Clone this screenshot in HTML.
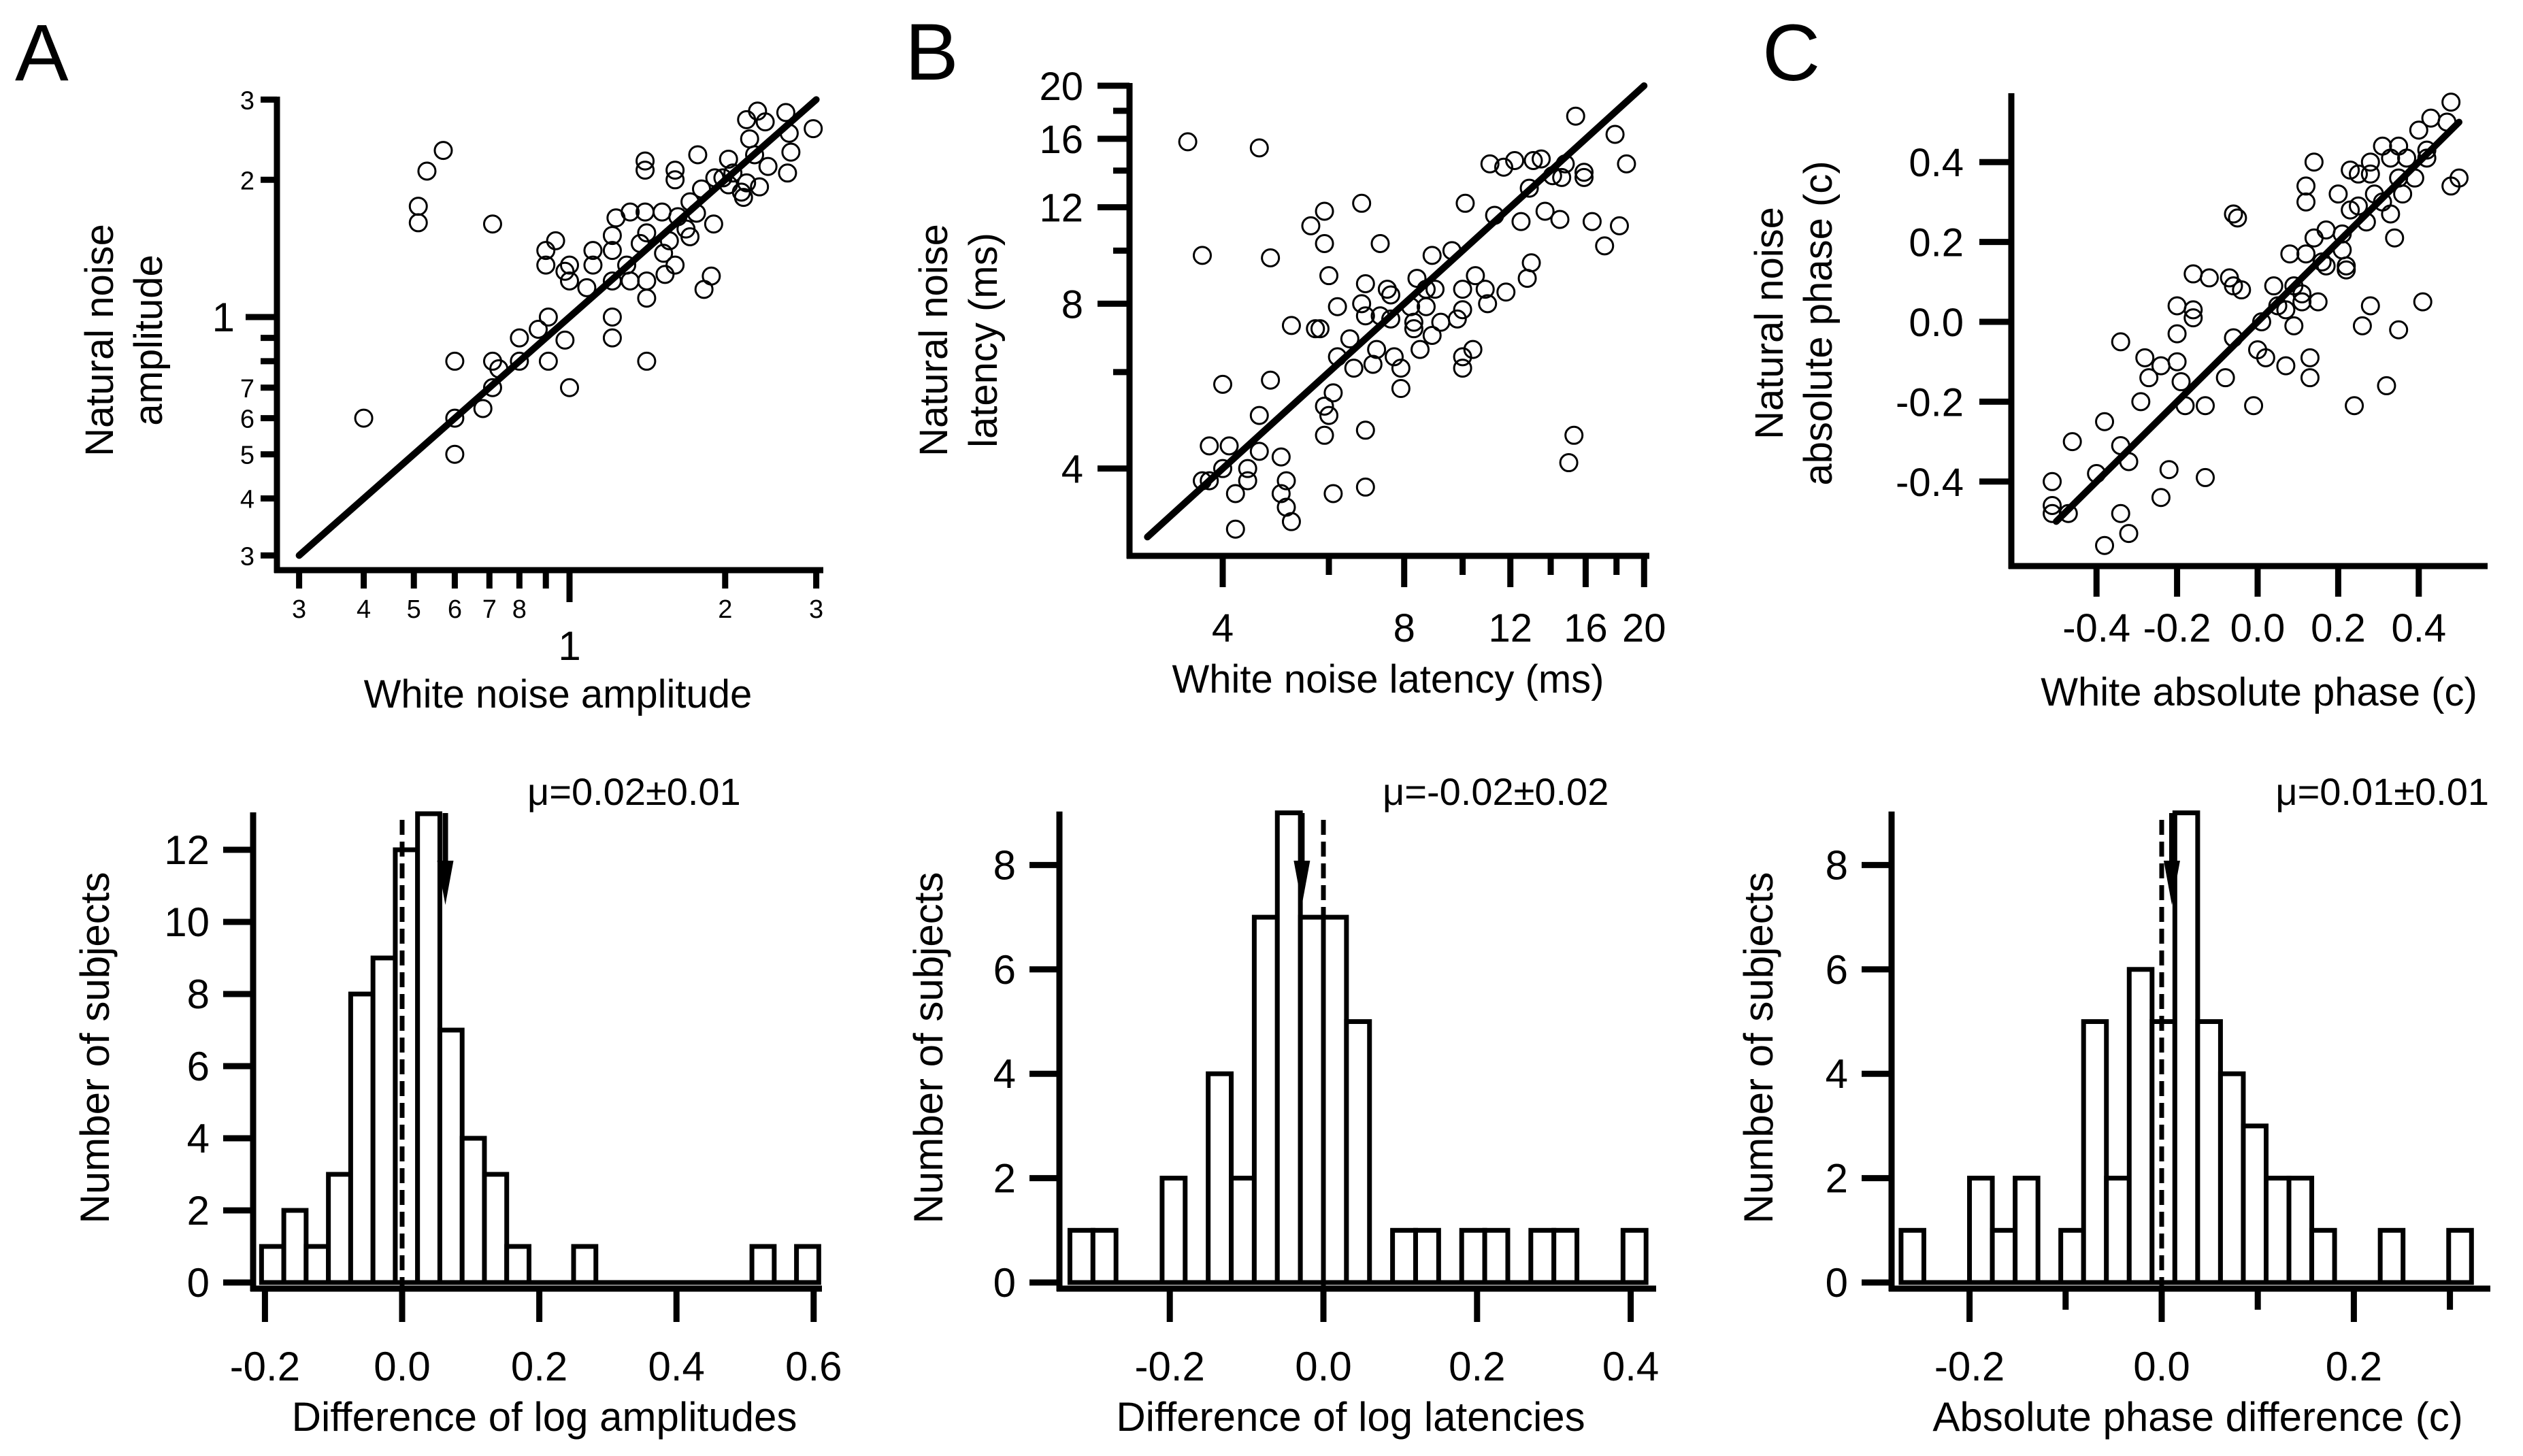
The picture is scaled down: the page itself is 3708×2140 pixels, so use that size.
<!DOCTYPE html>
<html><head><meta charset="utf-8"><title>Natural vs white noise comparison</title>
<style>
html,body{margin:0;padding:0;background:#fff;}
svg{display:block;font-family:"Liberation Sans",Arial,sans-serif;}
</style></head>
<body>
<svg id="fig" xmlns="http://www.w3.org/2000/svg" width="3708" height="2140" viewBox="0 0 3708 2140">
<rect x="0" y="0" width="3708" height="2140" fill="#fff"/>
</svg>
<script>
// ---------- Panel A scatter data (amplitudes) ----------
const ampWhite = [0.40,0.51,0.51,0.53,0.57,0.71,0.60,0.60,0.60,0.68,0.71,0.71,0.73,0.80,0.80,0.87,0.91,0.91,0.98,1.0,0.90,0.90,0.94,0.98,1.0,1.0,1.08,1.11,1.11,1.21,1.21,1.23,1.31,1.21,1.21,1.21,1.29,1.31,1.37,1.40,1.40,1.40,1.41,1.41,1.41,1.41,1.51,1.52,1.53,1.56,1.60,1.60,1.60,1.62,1.68,1.71,1.71,1.76,1.77,1.80,1.90,1.88,1.82,1.91,2.03,2.03,2.07,2.15,2.17,2.20,2.23,2.28,2.31,2.33,2.39,2.42,2.62,2.64,2.66,2.68,2.96,2.20,1.98];
const ampNatural = [0.60,1.61,1.75,2.09,2.32,1.60,0.80,0.60,0.50,0.63,0.80,0.70,0.77,0.80,0.90,0.94,1.0,0.80,0.89,0.70,1.30,1.40,1.47,1.26,1.30,1.20,1.16,1.40,1.30,1.51,1.40,1.65,1.70,1.20,1.0,0.90,1.30,1.20,1.45,1.70,2.20,2.10,1.53,1.20,1.10,0.80,1.70,1.38,1.24,1.47,2.10,2.00,1.30,1.66,1.56,1.79,1.50,1.69,2.27,1.91,1.60,1.23,1.15,2.02,2.22,1.95,2.07,1.88,1.83,2.71,2.46,2.27,2.83,1.93,2.68,2.14,2.81,2.07,2.53,2.30,2.59,1.97,2.02];
const ampTicks = [0.3,0.4,0.5,0.6,0.7,0.8,0.9,1,2,3];
const ampXLabels = ["3","4","5","6","7","8","","1","2","3"];
const ampYLabels = ["3","4","5","6","7","","","1","2","3"];
const ampFit = [0.3,3];

// ---------- Panel B scatter data (latencies, ms) ----------
const latWhite = [3.5,4.6,15.4,17.9,18.7,11.1,11.7,12.2,13.1,13.5,14.8,14.1,14.6,15.9,15.9,12.9,10.1,11.3,12.5,13.7,14.5,16.4,18.2,17.2,13.0,12.8,6.8,5.9,5.6,5.9,7.3,3.7,4.8,6.0,6.9,7.5,7.6,6.2,6.8,6.9,7.3,7.6,5.2,5.7,5.8,6.5,6.2,6.6,7.1,7.2,7.7,7.9,7.9,8.2,8.4,8.9,9.6,8.7,9.0,8.7,8.3,8.3,8.9,9.2,8.5,9.8,10.0,10.0,10.5,10.9,11.0,11.8,10.0,10.4,10.0,4.0,4.8,6.1,5.9,6.0,4.6,3.8,4.1,4.6,5.9,6.9,5.0,4.0,3.7,3.8,4.4,4.4,4.2,5.1,5.0,5.1,5.2,4.2,6.1,6.9,15.3,15.0];
const latNatural = [15.8,15.4,17.6,16.3,14.4,14.4,14.2,14.6,14.6,14.7,14.4,13.7,13.6,13.9,13.6,13.0,12.2,11.6,11.3,11.8,11.4,11.3,11.1,10.2,9.5,8.9,12.2,11.8,11.1,10.3,10.3,9.8,9.7,9.0,8.7,8.5,8.3,7.9,8.0,7.6,7.6,7.5,7.3,7.2,7.2,6.9,6.4,6.1,6.2,6.6,6.4,6.1,5.6,7.9,8.9,9.8,10.0,8.5,8.5,7.9,7.4,7.2,7.0,7.4,6.6,7.5,7.8,8.5,9.0,8.5,8.0,8.4,6.4,6.6,6.1,5.7,5.8,5.5,5.2,5.0,5.0,4.4,4.4,4.3,4.6,4.7,4.2,4.0,3.8,3.8,4.0,3.8,3.6,3.8,3.6,3.4,3.2,3.1,3.6,3.7,4.6,4.1];
const latYTicks = [4,6,8,10,12,14,16,18,20];
const latYLabels = ["4","","8","","12","","16","","20"];
const latFit = [3,20];

// ---------- Panel C scatter data (phase, cycles) ----------
const phWhite = [0.48,0.43,0.47,0.40,0.31,0.35,0.33,0.37,0.42,0.42,0.28,0.23,0.25,0.28,0.35,0.39,0.50,0.48,0.14,0.12,0.12,0.20,0.36,0.29,0.23,0.25,0.31,0.33,0.27,0.17,0.21,0.14,0.34,0.08,0.12,0.16,0.21,0.22,0.22,0.17,-0.06,-0.05,-0.16,-0.12,-0.07,-0.06,-0.04,0.04,0.09,0.11,0.15,0.11,0.05,0.07,0.09,0.01,-0.06,0.00,0.02,0.07,0.13,0.13,-0.20,-0.16,-0.16,-0.20,-0.34,-0.28,-0.24,-0.20,-0.27,-0.19,-0.08,0.28,0.41,0.26,0.35,0.32,0.24,-0.01,-0.13,-0.18,-0.29,-0.38,-0.46,-0.34,-0.32,-0.40,-0.51,-0.51,-0.51,-0.47,-0.22,-0.13,-0.24,-0.34,-0.32,-0.38];
const phNatural = [0.55,0.51,0.50,0.48,0.44,0.44,0.41,0.41,0.43,0.41,0.40,0.38,0.37,0.37,0.36,0.36,0.36,0.34,0.40,0.34,0.30,0.32,0.32,0.32,0.28,0.29,0.30,0.27,0.25,0.23,0.22,0.21,0.21,0.17,0.17,0.15,0.18,0.14,0.13,0.14,0.27,0.26,0.12,0.11,0.11,0.09,0.08,0.09,0.09,0.07,0.05,0.05,0.04,0.03,-0.01,0.00,-0.04,-0.07,-0.09,-0.11,-0.09,-0.14,0.04,0.03,0.01,-0.03,-0.05,-0.09,-0.11,-0.10,-0.14,-0.15,-0.14,0.04,0.05,-0.01,-0.02,-0.16,-0.21,-0.21,-0.21,-0.21,-0.20,-0.25,-0.30,-0.31,-0.35,-0.38,-0.40,-0.46,-0.48,-0.48,-0.37,-0.39,-0.44,-0.48,-0.53,-0.56];
const phTicks = [-0.4,-0.2,0.0,0.2,0.4];
const phLabels = ["-0.4","-0.2","0.0","0.2","0.4"];
const phFit = [-0.5,0.5];

// ---------- Histograms ----------
const histACounts = [1,2,1,3,8,9,12,13,7,4,3,1,0,0,1,0,0,0,0,0,0,0,1,0,1];
const histABinStart = -0.205;
const histABinWidth = 0.0325;
const histAXTicks = [-0.2,0.0,0.2,0.4,0.6];
const histAXLabels = ["-0.2","0.0","0.2","0.4","0.6"];
const histAYTicks = [0,2,4,6,8,10,12];
const histAMean = 0.063;

const histBCounts = [1,1,0,0,2,0,4,2,7,9,7,7,5,0,1,1,0,1,1,0,1,1,0,0,1];
const histBBinStart = -0.33;
const histBBinWidth = 0.03;
const histBXTicks = [-0.2,0.0,0.2,0.4];
const histBXLabels = ["-0.2","0.0","0.2","0.4"];
const histBYTicks = [0,2,4,6,8];
const histBMean = -0.028;

const histCCounts = [1,0,0,2,1,2,0,1,5,2,6,5,9,5,4,3,2,2,1,0,0,1,0,0,1];
const histCBinStart = -0.2713;
const histCBinWidth = 0.02375;
const histCXTicks = [-0.2,-0.1,0.0,0.1,0.2,0.3];
const histCXLabels = ["-0.2","","0.0","","0.2",""];
const histCYTicks = [0,2,4,6,8];
const histCMean = 0.0106;

// ---------- drawing helpers ----------
const NS = "http://www.w3.org/2000/svg";
const svg = document.getElementById("fig");
function mk(tag, attrs, parent) {
  const e = document.createElementNS(NS, tag);
  for (const k in attrs) e.setAttribute(k, attrs[k]);
  (parent || svg).appendChild(e);
  return e;
}
function txt(s, x, y, size, anchor, parent, rot) {
  const t = mk("text", {x: x, y: y, "font-size": size, "text-anchor": anchor || "middle", fill: "#000"}, parent);
  if (rot) t.setAttribute("transform", "rotate(-90 " + x + " " + y + ")");
  t.textContent = s;
  return t;
}
function line(x1, y1, x2, y2, w, parent) {
  return mk("line", {x1: x1, y1: y1, x2: x2, y2: y2, stroke: "#000", "stroke-width": w}, parent);
}
function group(name) {
  const g = mk("g", {});
  
  
  return g;
}
const L10 = Math.log10;

// Panel letters
[["A", 22, 118], ["B", 1330, 117], ["C", 2590, 118]].forEach(function (p) {
  const t = txt(p[0], p[1], p[2], 118, "start");
  
  
});

function scatter(gname, xs, ys, fx, fy) {
  const g = group(gname);
  for (let i = 0; i < xs.length; i++) {
    const c = mk("circle", {cx: fx(xs[i]), cy: fy(ys[i]), r: 12.5, fill: "none", stroke: "#000", "stroke-width": 3}, g);
    
    
  }
}
function fitLine(name, fit, fx, fy) {
  const l = line(fx(fit[0]), fy(fit[0]), fx(fit[1]), fy(fit[1]), 10);
  l.setAttribute("stroke-linecap", "round");
  
  
}

// ================= Panel A scatter =================
(function () {
  const ax = v => 837 + 760 * L10(v);
  const ay = v => 466 - 670 * L10(v);
  const g = group("panel-a-axes");
  line(407, 142, 407, 842, 9, g);
  line(403, 838, 1210, 838, 9, g);
  ampTicks.forEach(function (v, i) {
    const major = v === 1;
    line(major ? 361 : 383, ay(v), 407, ay(v), 9, g);
    line(ax(v), 838, ax(v), major ? 885 : 865, 9, g);
    if (ampYLabels[i]) {
      if (major) txt(ampYLabels[i], 345, ay(v) + 21, 60, "end", g);
      else txt(ampYLabels[i], 374, ay(v) + 14, 38, "end", g);
    }
    if (ampXLabels[i]) {
      if (major) txt(ampXLabels[i], ax(v), 970, 60, "middle", g);
      else txt(ampXLabels[i], ax(v), 908, 38, "middle", g);
    }
  });
  const yt = txt("Natural noise", 166, 500, 58, "middle", g, true);
  
  
  txt("amplitude", 238, 500, 58, "middle", g, true);
  const xt = txt("White noise amplitude", 820, 1040, 58, "middle", g);
  
  
  fitLine("fit-line-a", ampFit, ax, ay);
  scatter("scatter-a", ampWhite, ampNatural, ax, ay);
})();

// ================= Panel B scatter =================
(function () {
  const bx = v => 1797 + 886 * L10(v / 4);
  const by = v => 126 + 805 * L10(20 / v);
  const g = group("panel-b-axes");
  line(1660, 122, 1660, 821, 9, g);
  line(1656, 817, 2424, 817, 9, g);
  latYTicks.forEach(function (v, i) {
    const lab = latYLabels[i];
    line(lab ? 1613 : 1636, by(v), 1660, by(v), 9, g);
    line(bx(v), 817, bx(v), lab ? 863 : 845, 9, g);
    if (lab) {
      txt(lab, 1592, by(v) + 21, 58, "end", g);
      txt(lab, bx(v), 943, 58, "middle", g);
    }
  });
  const yt = txt("Natural noise", 1392, 500, 58, "middle", g, true);
  
  
  txt("latency (ms)", 1465, 500, 58, "middle", g, true);
  const xt = txt("White noise latency (ms)", 2040, 1018, 58, "middle", g);
  
  
  fitLine("fit-line-b", latFit, bx, by);
  scatter("scatter-b", latWhite, latNatural, bx, by);
})();

// ================= Panel C scatter =================
(function () {
  const cx = v => 3318 + 592 * v;
  const cy = v => 473 - 587 * v;
  const g = group("panel-c-axes");
  line(2956, 137, 2956, 836, 9, g);
  line(2952, 832, 3656, 832, 9, g);
  phTicks.forEach(function (v, i) {
    line(2909, cy(v), 2956, cy(v), 9, g);
    line(cx(v), 832, cx(v), 877, 9, g);
    txt(phLabels[i], 2886, cy(v) + 21, 58, "end", g);
    txt(phLabels[i], cx(v), 943, 58, "middle", g);
  });
  const yt = txt("Natural noise", 2620, 475, 58, "middle", g, true);
  
  
  txt("absolute phase (c)", 2692, 475, 58, "middle", g, true);
  const xt = txt("White absolute phase (c)", 3320, 1037, 58, "middle", g);
  
  
  fitLine("fit-line-c", phFit, cx, cy);
  scatter("scatter-c", phWhite, phNatural, cx, cy);
})();

// ================= Histograms =================
function histogram(o) {
  const hx = v => o.x0 + o.kx * v;
  const hy = c => 1885 - o.ky * c;
  const g = group(o.name + "-axes");
  // y axis
  line(o.axisX, hy(o.ymax) - 2, o.axisX, 1898, 9, g);
  o.yticks.forEach(function (c) {
    line(o.axisX - 44, hy(c), o.axisX, hy(c), 9, g);
    txt(String(c), o.axisX - 64, hy(c) + 21, 60, "end", g);
  });
  // x axis
  line(o.axisX - 4, 1894, o.xEnd, 1894, 9, g);
  o.xticks.forEach(function (v, i) {
    const lab = o.xlabels[i];
    line(hx(v), 1894, hx(v), lab ? 1943 : 1925, 9, g);
    if (lab) txt(lab, hx(v), 2029, 60, "middle", g);
  });
  const yt = txt("Number of subjects", o.titleYX, 1540, 60, "middle", g, true);
  
  
  const xt = txt(o.xtitle, o.xtitleX, 2103, 60, "middle", g);
  
  
  const mt = txt(o.mu, o.muX, 1183, 56, o.muAnchor, g);
  
  
  // bars
  const bg = group(o.name + "-bars");
  const lastEdge = o.start + o.counts.length * o.width;
  line(hx(o.start), 1885, hx(lastEdge), 1885, 7, bg);
  for (let i = 0; i < o.counts.length; i++) {
    const c = o.counts[i];
    if (c <= 0) continue;
    const xl = hx(o.start + i * o.width), xr = hx(o.start + (i + 1) * o.width);
    const r = mk("rect", {x: xl, y: hy(c), width: xr - xl, height: hy(0) - hy(c), fill: "#fff", stroke: "#000", "stroke-width": 7}, bg);
    
    
  }
  // dashed zero line
  const d = line(hx(0), 1205, hx(0), 1894, 7);
  d.setAttribute("stroke-dasharray", "22 10");
  
  
  // mean arrow
  const ag = group(o.name + "-mean-arrow");
  const mx = hx(o.mean);
  line(mx, 1195, mx, 1280, 8, ag);
  mk("polygon", {points: (mx - 12) + ",1265 " + (mx + 12) + ",1265 " + mx + ",1330", fill: "#000"}, ag);
}

histogram({name: "hist-a", counts: histACounts, start: histABinStart, width: histABinWidth,
  x0: 591, kx: 1008, ky: 53, ymax: 13, axisX: 372, xEnd: 1208,
  xticks: histAXTicks, xlabels: histAXLabels, yticks: histAYTicks, mean: histAMean,
  titleYX: 160, xtitle: "Difference of log amplitudes", xtitleX: 800,
  mu: "\u03bc=0.02\u00b10.01", muX: 775, muAnchor: "start"});
histogram({name: "hist-b", counts: histBCounts, start: histBBinStart, width: histBBinWidth,
  x0: 1945, kx: 1129, ky: 76.7, ymax: 9, axisX: 1557, xEnd: 2434,
  xticks: histBXTicks, xlabels: histBXLabels, yticks: histBYTicks, mean: histBMean,
  titleYX: 1385, xtitle: "Difference of log latencies", xtitleX: 1985,
  mu: "\u03bc=-0.02\u00b10.02", muX: 2032, muAnchor: "start"});
histogram({name: "hist-c", counts: histCCounts, start: histCBinStart, width: histCBinWidth,
  x0: 3177, kx: 1412, ky: 76.7, ymax: 9, axisX: 2780, xEnd: 3660,
  xticks: histCXTicks, xlabels: histCXLabels, yticks: histCYTicks, mean: histCMean,
  titleYX: 2605, xtitle: "Absolute phase difference (c)", xtitleX: 3230,
  mu: "\u03bc=0.01\u00b10.01", muX: 3658, muAnchor: "end"});
</script>
</body></html>
